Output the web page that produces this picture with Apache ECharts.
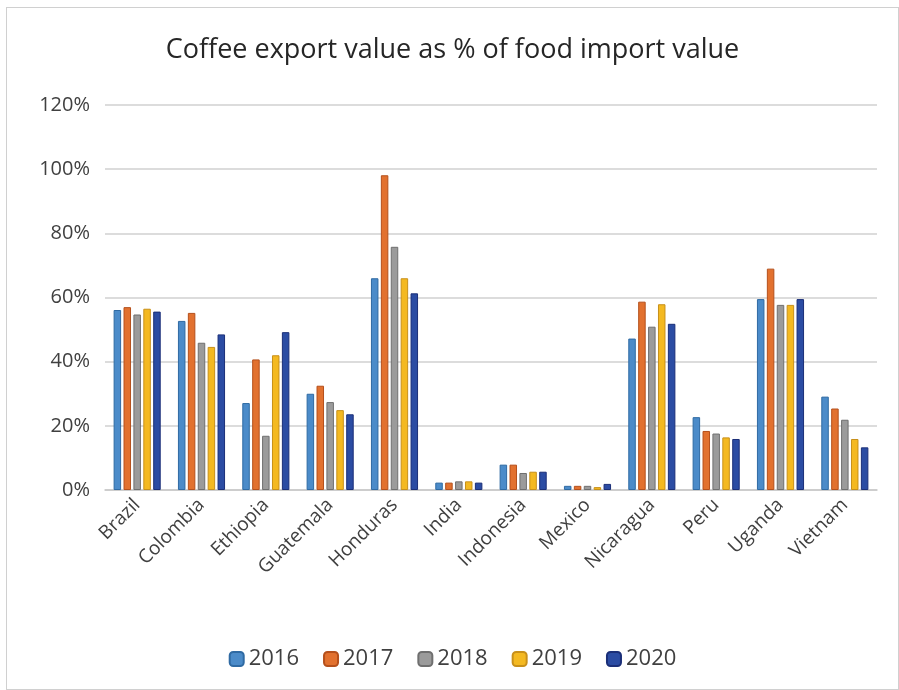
<!DOCTYPE html>
<html>
<head>
<meta charset="utf-8">
<script src="https://cdn.jsdelivr.net/npm/echarts@6/dist/echarts.min.js"></script>
<style>
  html, body { margin: 0; padding: 0; background: #fff; }
  #chart { position: absolute; left: 6px; top: 7px; width: 893px; height: 683px; border: 1px solid #d0d0d0; box-sizing: border-box; }
</style>
</head>
<body>
<div id="chart"></div>
<script>
const countries = ['Brazil', 'Colombia', 'Ethiopia', 'Guatemala', 'Honduras', 'India', 'Indonesia', 'Mexico', 'Nicaragua', 'Peru', 'Uganda', 'Vietnam'];
const years = ['2016', '2017', '2018', '2019', '2020'];
const yTicks = [0, 20, 40, 60, 80, 100, 120];

const v2016 = [56.1, 52.7, 27.1, 30.0, 66.0, 2.3, 7.9, 1.3, 47.2, 22.7, 59.5, 29.1];
const v2017 = [57.0, 55.2, 40.7, 32.5, 98.1, 2.3, 7.9, 1.3, 58.7, 18.4, 69.0, 25.4];
const v2018 = [54.7, 45.9, 16.9, 27.4, 75.8, 2.7, 5.3, 1.3, 50.9, 17.6, 57.7, 21.9];
const v2019 = [56.5, 44.6, 42.0, 24.9, 66.0, 2.7, 5.7, 0.9, 57.9, 16.4, 57.7, 15.9];
const v2020 = [55.6, 48.5, 49.2, 23.6, 61.3, 2.3, 5.7, 1.9, 51.8, 15.9, 59.5, 13.3];

const values = [v2016, v2017, v2018, v2019, v2020];
const fills = ['#4b8bc9', '#e2712f', '#9b9b9b', '#f4b921', '#2b4ca3'];
const edges = ['#2f6aa3', '#b5501c', '#6f6f6f', '#c8901a', '#1b2f78'];

const chart = echarts.init(document.getElementById('chart'));
chart.setOption({
  animation: false,
  title: {
    text: 'Coffee export value as % of food import value',
    left: 'center',
    top: 24,
    textStyle: { fontFamily: 'Open Sans', fontSize: 27, fontWeight: 'normal', color: '#262626' }
  },
  legend: {
    bottom: 14,
    left: 'center',
    itemWidth: 14,
    itemHeight: 14,
    itemGap: 24,
    textStyle: { fontFamily: 'Open Sans', fontSize: 22, color: '#404040' },
    data: years
  },
  grid: { left: 98, right: 21, top: 97, bottom: 199, containLabel: false },
  xAxis: {
    type: 'category',
    data: countries,
    axisTick: { show: false },
    axisLine: { lineStyle: { color: '#c8c8c8', width: 1.5 } },
    axisLabel: { rotate: 45, interval: 0, margin: 12, fontFamily: 'Open Sans', fontSize: 19, color: '#404040' }
  },
  yAxis: {
    type: 'value',
    min: 0,
    max: 120,
    interval: 20,
    axisLine: { show: false },
    axisTick: { show: false },
    splitLine: { lineStyle: { color: '#d0d0d0', width: 1.5 } },
    axisLabel: { margin: 15, fontFamily: 'Open Sans', fontSize: 20, color: '#404040', formatter: v => yTicks.includes(v) ? v + '%' : '' }
  },
  series: years.map((y, i) => ({
    name: y,
    type: 'bar',
    data: values[i],
    barWidth: 7.5,
    barGap: '32%',
    itemStyle: { color: fills[i], borderColor: edges[i], borderWidth: 1 }
  }))
});
</script>
</body>
</html>
